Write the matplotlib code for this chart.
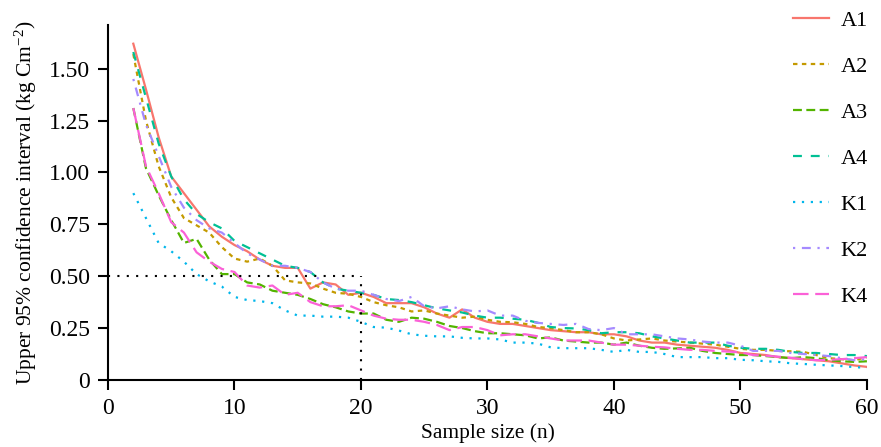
import numpy as np
import matplotlib
matplotlib.use('Agg')
import matplotlib.pyplot as plt

plt.rcParams['font.family'] = ['Liberation Serif', 'DejaVu Serif']
plt.rcParams['mathtext.default'] = 'regular'

# sample size
n = np.arange(2, 61)

# upper 95% CI per site
A1 = [1.62, 1.40, 1.17, 0.98, 0.90, 0.82, 0.74, 0.69, 0.65, 0.62, 0.58, 0.55, 0.54, 0.54, 0.44,
      0.47, 0.46, 0.41, 0.42, 0.40, 0.37, 0.37, 0.37, 0.35, 0.32, 0.30, 0.34, 0.30, 0.28, 0.27,
      0.27, 0.26, 0.25, 0.24, 0.235, 0.23, 0.23, 0.22, 0.22, 0.21, 0.19, 0.18, 0.18, 0.17, 0.165,
      0.16, 0.155, 0.145, 0.13, 0.125, 0.12, 0.11, 0.105, 0.10, 0.095, 0.09, 0.08, 0.07, 0.063]
A2 = [1.57, 1.25, 1.03, 0.88, 0.78, 0.745, 0.71, 0.64, 0.585, 0.57, 0.585, 0.55, 0.48, 0.47, 0.465,
      0.44, 0.42, 0.415, 0.40, 0.375, 0.36, 0.35, 0.33, 0.335, 0.32, 0.31, 0.30, 0.305, 0.29, 0.28,
      0.278, 0.27, 0.255, 0.25, 0.24, 0.23, 0.23, 0.22, 0.20, 0.19, 0.195, 0.20, 0.19, 0.185, 0.18,
      0.175, 0.17, 0.16, 0.15, 0.145, 0.145, 0.14, 0.138, 0.135, 0.12, 0.105, 0.10, 0.095, 0.11]
A3 = [1.31, 1.02, 0.89, 0.77, 0.66, 0.68, 0.58, 0.51, 0.51, 0.47, 0.46, 0.43, 0.42, 0.41, 0.39,
      0.365, 0.35, 0.33, 0.32, 0.32, 0.29, 0.28, 0.30, 0.295, 0.28, 0.26, 0.25, 0.235, 0.225, 0.225,
      0.22, 0.215, 0.20, 0.205, 0.19, 0.185, 0.18, 0.18, 0.17, 0.18, 0.165, 0.155, 0.15, 0.152, 0.155,
      0.14, 0.13, 0.125, 0.12, 0.12, 0.115, 0.11, 0.105, 0.11, 0.105, 0.095, 0.09, 0.087, 0.09]
A4 = [1.58, 1.36, 1.14, 0.98, 0.87, 0.80, 0.76, 0.73, 0.67, 0.64, 0.61, 0.58, 0.55, 0.54, 0.52,
      0.47, 0.44, 0.43, 0.42, 0.41, 0.39, 0.385, 0.375, 0.36, 0.345, 0.335, 0.325, 0.31, 0.30, 0.30,
      0.295, 0.29, 0.275, 0.255, 0.25, 0.248, 0.24, 0.225, 0.23, 0.23, 0.225, 0.21, 0.20, 0.19, 0.18,
      0.18, 0.18, 0.165, 0.155, 0.15, 0.15, 0.145, 0.135, 0.13, 0.13, 0.125, 0.12, 0.12, 0.115]
K1 = [0.90, 0.78, 0.66, 0.62, 0.57, 0.51, 0.475, 0.45, 0.40, 0.385, 0.38, 0.37, 0.335, 0.31, 0.31,
      0.305, 0.305, 0.30, 0.28, 0.255, 0.252, 0.238, 0.22, 0.213, 0.21, 0.21, 0.203, 0.20, 0.20, 0.195,
      0.18, 0.18, 0.175, 0.157, 0.153, 0.153, 0.153, 0.145, 0.135, 0.145, 0.135, 0.135, 0.125, 0.11, 0.11,
      0.11, 0.105, 0.105, 0.097, 0.095, 0.09, 0.087, 0.08, 0.077, 0.073, 0.07, 0.067, 0.062, 0.058]
K2 = [1.45, 1.23, 1.08, 0.93, 0.83, 0.77, 0.73, 0.71, 0.66, 0.61, 0.58, 0.55, 0.55, 0.54, 0.52,
      0.47, 0.44, 0.43, 0.43, 0.41, 0.39, 0.38, 0.40, 0.355, 0.345, 0.355, 0.34, 0.33, 0.335, 0.31,
      0.31, 0.285, 0.275, 0.27, 0.265, 0.27, 0.245, 0.24, 0.25, 0.22, 0.22, 0.22, 0.21, 0.20, 0.195,
      0.185, 0.18, 0.18, 0.165, 0.14, 0.14, 0.14, 0.13, 0.125, 0.12, 0.115, 0.105, 0.095, 0.10]
K4 = [1.31, 1.03, 0.90, 0.76, 0.71, 0.615, 0.57, 0.535, 0.52, 0.455, 0.445, 0.455, 0.41, 0.42, 0.375,
      0.355, 0.355, 0.36, 0.335, 0.31, 0.295, 0.29, 0.29, 0.28, 0.265, 0.24, 0.255, 0.255, 0.24, 0.215,
      0.22, 0.22, 0.21, 0.20, 0.19, 0.19, 0.19, 0.18, 0.17, 0.17, 0.165, 0.16, 0.157, 0.15, 0.145,
      0.145, 0.14, 0.137, 0.133, 0.12, 0.117, 0.112, 0.107, 0.10, 0.095, 0.097, 0.10, 0.105, 0.11]

labels = ['A1', 'A2', 'A3', 'A4', 'K1', 'K2', 'K4']
series = [A1, A2, A3, A4, K1, K2, K4]
colors = ['#F8766D', '#C49A00', '#53B400', '#00C094', '#00B6EB', '#A58AFF', '#FB61D7']
# ggplot style linetypes: solid, 22, 42, 44, 13, 1343, 73
dashes = [None, (2, 2), (4, 2), (4, 4), (1, 3), (1, 3, 4, 3), (7, 3)]

fig = plt.figure(figsize=(8.81, 4.47), dpi=100)
ax = fig.add_axes([0.1226, 0.150, 0.984 - 0.1226, 0.944 - 0.150])

for y, lab, c, d in zip(series, labels, colors, dashes):
    if d is None:
        ax.plot(n, y, color=c, lw=1.6, label=lab)
    else:
        ax.plot(n, y, color=c, lw=1.6, dashes=d, label=lab)

# reference lines at n=20, 0.5
ax.plot([0, 20], [0.5, 0.5], color='black', lw=1.5, dashes=(1, 3.5))
ax.plot([20, 20], [0, 0.5], color='black', lw=1.5, dashes=(1, 3.5))

ax.set_xlim(0, 60)
ax.set_ylim(0, 1.71)
ax.set_xticks([0, 10, 20, 30, 40, 50, 60])
ax.set_yticks([0, 0.25, 0.5, 0.75, 1.0, 1.25, 1.5])
ax.set_yticklabels(['0', '0.25', '0.50', '0.75', '1.00', '1.25', '1.50'])

for s in ['top', 'right']:
    ax.spines[s].set_visible(False)
for s in ['left', 'bottom']:
    ax.spines[s].set_linewidth(1.5)
ax.tick_params(width=1.5, length=7, pad=6, labelsize=17, color='black', labelcolor='black')

ax.set_xlabel('Sample size (n)', fontsize=15.5, labelpad=3)
ax.set_ylabel('Upper 95% confidence interval (kg Cm$^{-2}$)', fontsize=15.5, labelpad=7)

ax.legend(loc='upper left', bbox_to_anchor=(793 / 881, 1 - 10 / 447), bbox_transform=fig.transFigure,
          frameon=False, fontsize=16, handlelength=1.6, handletextpad=0.55,
          labelspacing=1.15, borderpad=0, borderaxespad=0)

fig.savefig('out.png', dpi=100)
